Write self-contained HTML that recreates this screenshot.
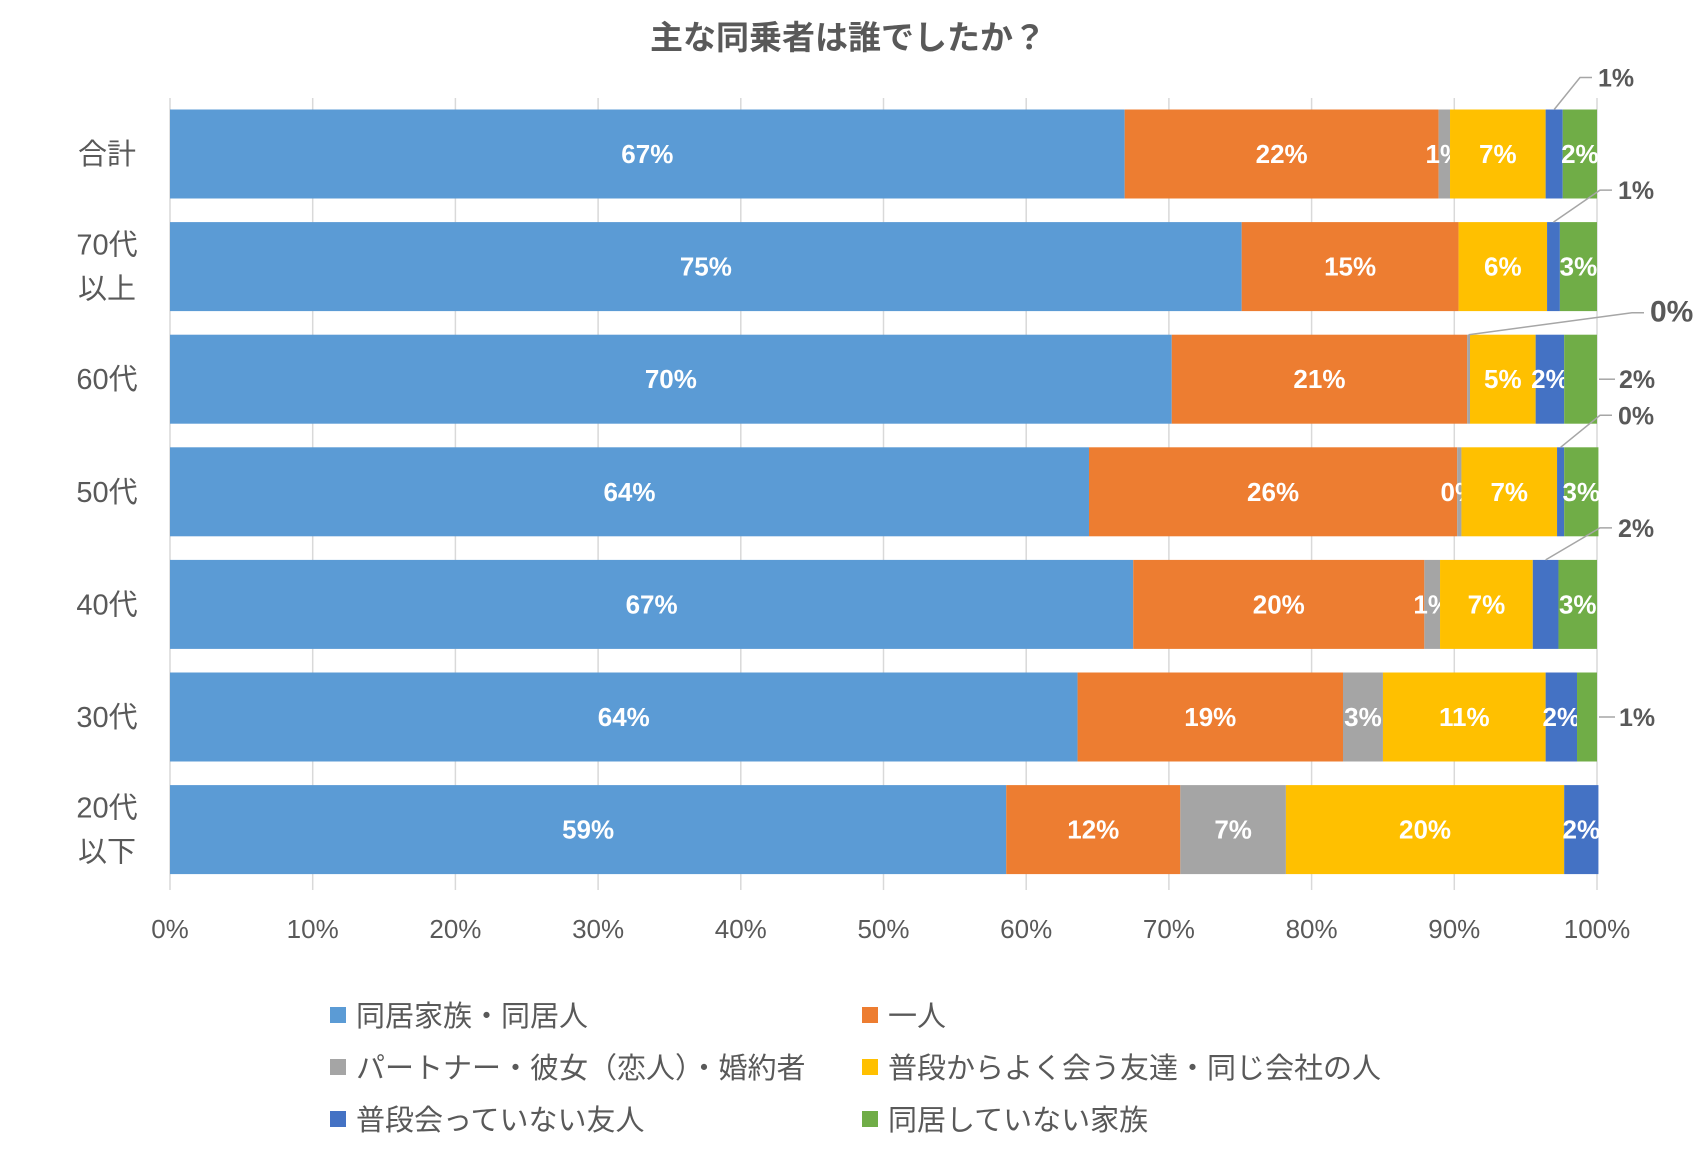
<!DOCTYPE html>
<html><head><meta charset="utf-8"><style>
html,body{margin:0;padding:0;background:#fff}
svg{display:block}
text{font-family:"Liberation Sans","Noto Sans CJK JP",sans-serif}
</style></head><body>
<svg id="chart" width="1700" height="1150" viewBox="0 0 1700 1150"></svg>
<script>
const categories=["合計","70代\n以上","60代","50代","40代","30代","20代\n以下"];
const seriesNames=["同居家族・同居人","一人","パートナー・彼女（恋人）・婚約者","普段からよく会う友達・同じ会社の人","普段会っていない友人","同居していない家族"];
const seriesColors=["#5B9BD5","#ED7D31","#A5A5A5","#FFC000","#4472C4","#70AD47"];
const s0=[66.9,75.1,70.2,64.4,67.5,63.6,58.6];
const s1=[22.0,15.2,20.7,25.8,20.4,18.6,12.2];
const s2=[0.8,0.0,0.2,0.3,1.1,2.8,7.4];
const s3=[6.7,6.2,4.6,6.7,6.5,11.4,19.5];
const s4=[1.2,0.9,2.0,0.5,1.8,2.2,2.4];
const s5=[2.4,2.6,2.3,2.4,2.7,1.4,0.0];
const labels0=["67%","75%","70%","64%","67%","64%","59%"];
const labels1=["22%","15%","21%","26%","20%","19%","12%"];
const labels2=["1%",null,null,"0%","1%","3%","7%"];
const labels3=["7%","6%","5%","7%","7%","11%","20%"];
const labels4=[null,null,"2%",null,null,"2%","2%"];
const labels5=["2%","3%",null,"3%","3%",null,null];
// callouts: [row, series, label, type]
const callouts=[[0,4,"1%","top"],[1,4,"1%","top"],[2,2,"0%","top"],[2,5,"2%","side"],[3,4,"0%","top"],[4,4,"2%","top"],[5,5,"1%","side"]];
const xTicks=[0,10,20,30,40,50,60,70,80,90,100];
const tickLabels=["0%","10%","20%","30%","40%","50%","60%","70%","80%","90%","100%"];

const series=[s0,s1,s2,s3,s4,s5];
const seriesLabels=[labels0,labels1,labels2,labels3,labels4,labels5];
const NS="http://www.w3.org/2000/svg";
const svg=document.getElementById('chart');
const X0=170,X1=1597,TOP=109.5,STEP=112.6,BH=89;
const xs=v=>X0+(X1-X0)*v/100;
const yRow=i=>TOP+i*STEP;
function mk(tag,attrs,parent){const e=document.createElementNS(NS,tag);for(const k in attrs)e.setAttribute(k,attrs[k]);(parent||svg).appendChild(e);return e;}

const title=mk('text',{x:848,y:49,'text-anchor':'middle','font-size':33,'font-weight':'bold',fill:'#595959'});
title.textContent="主な同乗者は誰でしたか？";



const grid=mk('g',{});


xTicks.forEach((t,i)=>{
  const l=mk('line',{x1:xs(t),x2:xs(t),y1:98,y2:890,stroke:'#D9D9D9','stroke-width':1.5},grid);
  
  
  const tx=mk('text',{x:xs(t),y:938,'text-anchor':'middle','font-size':26,fill:'#595959'});
  tx.textContent=tickLabels[i];
  
  
});

categories.forEach((c,i)=>{
  const lines=c.split("\n");
  const cy=yRow(i)+BH/2;
  lines.forEach((ln,j)=>{
    const t=mk('text',{x:107,y:cy+10+(j-(lines.length-1)/2)*44,'text-anchor':'middle','font-size':29,fill:'#595959'});
    t.textContent=ln;
    
    
  });
  let acc=0;
  series.forEach((s,k)=>{
    const v=s[i];
    const r=mk('rect',{x:xs(acc),y:yRow(i),width:Math.max(0,xs(acc+v)-xs(acc)),height:BH,fill:seriesColors[k]});
    
    
    const lab=seriesLabels[k][i];
    if(lab){
      const t=mk('text',{x:(xs(acc)+xs(acc+v))/2,y:cy+9,'text-anchor':'middle','font-size':26,'font-weight':'bold',fill:'#fff'});
      t.textContent=lab;
      
      
    }
    acc+=v;
  });
});

callouts.forEach(co=>{
  const [row,k,lab,type]=co;
  let acc=0;for(let j=0;j<k;j++)acc+=series[j][row];
  const mid=(xs(acc)+xs(acc+series[k][row]))/2;
  let pts,tx,ty,fs=25;
  if(type==="top"){
    const big=(k===2);
    ty=big?yRow(row)-22:yRow(row)-32;
    const ex=big?1632:1580+(row===0?0:20);
    pts=`${mid},${yRow(row)} ${ex},${ty} ${ex+12},${ty}`;
    tx=ex+18; if(big)fs=30;
  }else{
    ty=yRow(row)+BH/2;
    pts=`${X1+2},${ty} ${X1+18},${ty}`;
    tx=X1+22;
  }
  const pl=mk('polyline',{points:pts,fill:'none',stroke:'#A6A6A6','stroke-width':1.5});
  
  
  const t=mk('text',{x:tx,y:ty+9,'font-size':fs,'font-weight':'bold',fill:'#595959'});
  t.textContent=lab;
  
  
});

const legend=mk('g',{});


seriesNames.forEach((n,k)=>{
  const col=k%2,row=Math.floor(k/2);
  const x=col?862:330,y=1016+row*52;
  const g=mk('g',{},legend);
  
  
  mk('rect',{x:x,y:y-9,width:16,height:16,fill:seriesColors[k]},g);
  const t=mk('text',{x:x+26,y:y+10,'font-size':29,fill:'#595959'},g);
  t.textContent=n;
});
</script>
</body></html>
